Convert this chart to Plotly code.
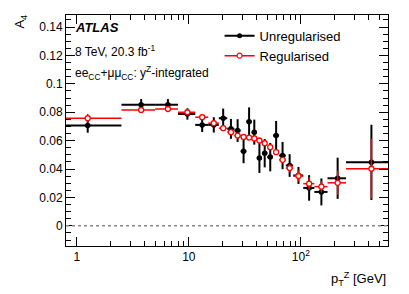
import plotly.graph_objects as go

bin_lo = [0, 2.5, 5.0, 8.0, 11.4, 14.9, 18.5, 22.0, 25.5, 29.0, 32.6, 36.4, 40.4, 44.9,
          50.2, 56.4, 63.9, 73.4, 85.4, 105.0, 132.0, 173.0, 253.0]
bin_hi = [2.5, 5.0, 8.0, 11.4, 14.9, 18.5, 22.0, 25.5, 29.0, 32.6, 36.4, 40.4, 44.9, 50.2,
          56.4, 63.9, 73.4, 85.4, 105.0, 132.0, 173.0, 253.0, 600.0]

unreg = [0.0706, 0.0853, 0.0853, 0.0788, 0.0711, 0.0711, 0.0758, 0.0683, 0.0671, 0.0526,
         0.0734, 0.0660, 0.0477, 0.0512, 0.0484, 0.0636, 0.0495, 0.0425, 0.0355, 0.0267,
         0.0239, 0.0335, 0.0447]
unreg_err = [0.005, 0.004, 0.004, 0.004, 0.005, 0.0054, 0.0068, 0.007, 0.008, 0.0085,
             0.010, 0.0088, 0.0105, 0.010, 0.010, 0.0103, 0.0096, 0.008, 0.006, 0.009,
             0.0095, 0.0145, 0.0265]
reg = [0.0758, 0.0816, 0.0823, 0.0800, 0.0765, 0.0723, 0.0688, 0.0660, 0.0636, 0.0626,
       0.0622, 0.0616, 0.0601, 0.0582, 0.0554, 0.0519, 0.0465, 0.0407, 0.0351, 0.0297,
       0.0276, 0.0303, 0.0402]
reg_err = [0.003, 0.002, 0.002, 0.002, 0.0015, 0.0015, 0.0015, 0.0015, 0.0015, 0.0015,
           0.0015, 0.0015, 0.0015, 0.0015, 0.002, 0.002, 0.002, 0.003, 0.004, 0.0045,
           0.004, 0.0085, 0.021]

x_lo_display = [max(lo, 0.5) for lo in bin_lo]
xc = [(lo + hi) / 2 for lo, hi in zip(bin_lo, bin_hi)]
ex_minus = [c - lo for c, lo in zip(xc, x_lo_display)]
ex_plus = [hi - c for c, hi in zip(xc, bin_hi)]

FONT = "Liberation Sans, Arial, sans-serif"

fig = go.Figure()
fig.add_trace(go.Scatter(
    x=xc, y=unreg, mode="markers", showlegend=False,
    marker=dict(color="black", size=5.5, symbol="circle"),
    error_x=dict(type="data", symmetric=False, array=ex_plus, arrayminus=ex_minus,
                 color="black", thickness=2, width=0),
    error_y=dict(type="data", array=unreg_err, color="black", thickness=2, width=0),
))
fig.add_trace(go.Scatter(
    x=xc, y=reg, mode="markers", showlegend=False,
    marker=dict(color="white", size=5, symbol="circle", line=dict(color="red", width=1.3)),
    error_x=dict(type="data", symmetric=False, array=ex_plus, arrayminus=ex_minus,
                 color="red", thickness=1.5, width=0),
    error_y=dict(type="data", array=reg_err, color="red", thickness=1.5, width=0),
))
fig.add_trace(go.Scatter(
    x=[None], y=[None], mode="lines+markers", name="Unregularised",
    line=dict(color="black", width=2), marker=dict(color="black", size=5)))
fig.add_trace(go.Scatter(
    x=[None], y=[None], mode="lines+markers", name="Regularised",
    line=dict(color="red", width=1.5),
    marker=dict(color="white", size=5, line=dict(color="red", width=1.2))))

fig.add_shape(type="line", xref="paper", yref="y", x0=0, x1=1, y0=0, y1=0,
              line=dict(color="#888888", width=1.5, dash="dot"))

minor_x = [v * m for m in (1, 10, 100) for v in range(2, 10) if v * m <= 600]
fig.update_xaxes(
    type="log", range=[-0.0969, 2.778],
    tickvals=[1, 10, 100], ticktext=["1", "10", "10<sup>2</sup>"],
    ticks="inside", ticklen=9, tickcolor="black",
    minor=dict(tickvals=minor_x, ticks="inside", ticklen=5, tickcolor="black"),
    showline=True, linecolor="black", linewidth=1, mirror="ticks",
    showgrid=False, zeroline=False,
    tickfont=dict(family=FONT, size=12, color="black"),
)
fig.update_yaxes(
    range=[-0.0142, 0.1485],
    tickvals=[0, 0.02, 0.04, 0.06, 0.08, 0.1, 0.12, 0.14],
    ticktext=["0", "0.02", "0.04", "0.06", "0.08", "0.1", "0.12", "0.14"],
    ticks="inside", ticklen=9, tickcolor="black",
    minor=dict(dtick=0.005, ticks="inside", ticklen=5, tickcolor="black"),
    showline=True, linecolor="black", linewidth=1, mirror="ticks",
    showgrid=False, zeroline=False,
    tickfont=dict(family=FONT, size=12, color="black"),
)

fig.add_annotation(xref="paper", yref="paper", x=0.022, y=0.944, xanchor="left",
                   yanchor="middle", showarrow=False,
                   text="<b><i>ATLAS</i></b>", font=dict(family=FONT, size=13, color="black"))
fig.add_annotation(xref="paper", yref="paper", x=0.022, y=0.846, xanchor="left",
                   yanchor="middle", showarrow=False,
                   text="8 TeV, 20.3 fb<sup>-1</sup>", font=dict(family=FONT, size=12, color="black"))
fig.add_annotation(xref="paper", yref="paper", x=0.022, y=0.75, xanchor="left",
                   yanchor="middle", showarrow=False,
                   text="ee<sub>CC</sub>+μμ<sub>CC</sub>: y<sup>Z</sup>-integrated",
                   font=dict(family=FONT, size=12, color="black"))
fig.add_annotation(xref="paper", yref="paper", x=-0.14, y=1.01, xanchor="center",
                   yanchor="top", showarrow=False, textangle=-90,
                   text="A<sub>4</sub>", font=dict(family=FONT, size=13, color="black"))
fig.add_annotation(xref="paper", yref="paper", x=1.0, y=-0.095, xanchor="right",
                   yanchor="top", showarrow=False,
                   text="p<sub>T</sub><sup>Z</sup> [GeV]", font=dict(family=FONT, size=13, color="black"))

# page body has an 8px default margin; compensate so the plot area sits at
# x 66..388, y 15..246 in the window
fig.update_layout(
    width=409, height=294,
    margin=dict(l=58, r=29, t=7, b=56),
    plot_bgcolor="white", paper_bgcolor="white",
    legend=dict(x=0.477, y=0.975, xanchor="left", yanchor="top",
                bgcolor="rgba(0,0,0,0)", font=dict(family=FONT, size=13, color="black"),
                itemwidth=30, tracegroupgap=0),
)

fig.write_html("out.html")
